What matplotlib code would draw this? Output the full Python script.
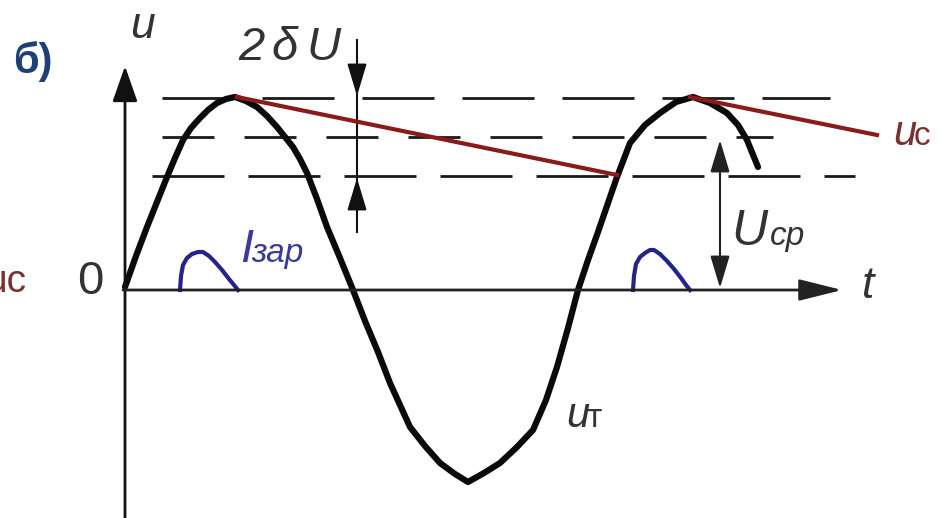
import matplotlib
matplotlib.use('Agg')
import matplotlib.pyplot as plt

plt.rcParams['font.family'] = ['Liberation Sans', 'DejaVu Sans']
plt.rcParams['lines.scale_dashes'] = False

# all coordinates in pixels (y grows downward)
sine_x = [125, 136, 147, 157, 167, 175, 183, 191, 200, 208, 217, 226, 235,
          246, 257, 267, 277, 285, 293, 300, 307, 317, 327, 340, 353, 365,
          378, 390, 400, 410, 425, 440, 455, 468, 484, 500, 517, 533, 546,
          557, 568, 578, 588, 598, 608, 617, 630, 645, 660, 676, 693, 710,
          727, 738, 747, 758]
sine_y = [287, 256, 227, 202, 177, 158, 140, 128, 118, 110, 103, 99, 97,
          101, 107, 116, 127, 137, 147, 159, 173, 199, 227, 258, 290, 321,
          352, 383, 405, 427, 446, 463, 474, 482, 473, 463, 447, 430, 400,
          367, 328, 290, 260, 232, 203, 177, 143, 125, 113, 102, 97, 103,
          113, 125, 140, 167]

ripple_x = [237, 617]
ripple_y = [97, 175]
ripple2_x = [690, 877]
ripple2_y = [97, 135]

pulse1_x = [180, 181, 183, 187, 192, 198, 203, 209, 215, 222, 229, 234, 238]
pulse1_y = [290, 276, 265, 258, 254, 252, 252, 256, 262, 270, 279, 285, 290]
pulse2_x = [633, 634, 636, 640, 645, 650, 654, 660, 667, 674, 681, 686, 690]
pulse2_y = [290, 276, 264, 257, 253, 250, 250, 254, 261, 269, 278, 285, 290]

# dashed reference levels: y, x start, x end, dash length, gap
level_y = [98, 137, 176]
level_x0 = [162, 162, 152]
level_x1 = [830, 773, 855]
level_dash = [(72, 28), (52, 30), (72, 24)]

ripple_label = ['2', 'δ', 'U']
ripple_label_x = [238, 271, 306]

fig = plt.figure(figsize=(9.42, 5.18), dpi=100)
ax = fig.add_axes([0, 0, 1, 1])
ax.set_xlim(0, 942)
ax.set_ylim(518, 0)
ax.axis('off')

px = 72 / 100  # pixels -> points

for y, x0, x1, (on, off) in zip(level_y, level_x0, level_x1, level_dash):
    ax.plot([x0, x1], [y, y], color='#1a1a1a', lw=2.0,
            linestyle=(0, (on * px, off * px)), solid_capstyle='butt')

# axes
ax.annotate('', xy=(125, 66), xytext=(125, 518),
            arrowprops=dict(arrowstyle='-|>,head_length=1.0,head_width=0.35',
                            color='#111111', lw=2.0, mutation_scale=22,
                            shrinkA=0, shrinkB=0))
ax.annotate('', xy=(842, 290), xytext=(123, 290),
            arrowprops=dict(arrowstyle='-|>,head_length=1.2,head_width=0.3',
                            color='#222222', lw=2.0, mutation_scale=22,
                            shrinkA=0, shrinkB=0))

# ripple marker 2dU
ax.plot([357, 357], [40, 232], color='#111111', lw=1.5)
ax.annotate('', xy=(357, 96), xytext=(357, 66),
            arrowprops=dict(arrowstyle='-|>,head_length=1.0,head_width=0.3',
                            color='#111111', lw=1.5, mutation_scale=20,
                            shrinkA=0, shrinkB=0))
ax.annotate('', xy=(357, 178), xytext=(357, 206),
            arrowprops=dict(arrowstyle='-|>,head_length=1.0,head_width=0.3',
                            color='#111111', lw=1.5, mutation_scale=20,
                            shrinkA=0, shrinkB=0))

# mean voltage arrow
ax.annotate('', xy=(720, 140), xytext=(720, 288),
            arrowprops=dict(arrowstyle='<|-|>,head_length=1.0,head_width=0.3',
                            color='#222222', lw=1.5, mutation_scale=20,
                            shrinkA=0, shrinkB=0))

ax.plot(sine_x, sine_y, color='#0a0a0a', lw=4.5, solid_joinstyle='round',
        solid_capstyle='round')
ax.plot(ripple_x, ripple_y, color='#8b1a1a', lw=3.0)
ax.plot(ripple2_x, ripple2_y, color='#8b1a1a', lw=3.0)
ax.plot(pulse1_x, pulse1_y, color='#23238a', lw=3.0)
ax.plot(pulse2_x, pulse2_y, color='#23238a', lw=3.0)

# labels
ax.text(13, 62, 'б)', fontsize=30, fontweight='bold', color='#1f3f78',
        va='center', ha='left')
ax.text(143, 27, 'u', fontsize=32, style='italic', color='#333333',
        va='center', ha='center')
for s, x in zip(ripple_label, ripple_label_x):
    ax.text(x, 60, s, fontsize=34, style='italic', color='#333333',
            va='baseline', ha='left')
ax.text(90, 282, '0', fontsize=34, color='#333333', va='center', ha='center')
ax.text(26, 282, 'uc', fontsize=28, color='#7a3030', va='center', ha='right')
ax.text(240, 262, 'I', fontsize=34, style='italic', color='#3a3a9a',
        va='baseline', ha='left')
ax.text(251, 262, 'зар', fontsize=24, style='italic', color='#3a3a9a',
        va='baseline', ha='left')
ax.text(731, 245, 'U', fontsize=36, style='italic', color='#333333',
        va='baseline', ha='left')
ax.text(770, 245, 'cp', fontsize=24, style='italic', color='#333333',
        va='baseline', ha='left')
ax.text(868, 286, 't', fontsize=32, style='italic', color='#333333',
        va='center', ha='center')
ax.text(566, 427, 'u', fontsize=30, style='italic', color='#333333',
        va='baseline', ha='left')
ax.text(586, 427, 'т', fontsize=24, color='#333333', va='baseline', ha='left')
ax.text(893, 145, 'u', fontsize=30, style='italic', color='#7a3030',
        va='baseline', ha='left')
ax.text(914, 145, 'c', fontsize=24, color='#7a3030', va='baseline', ha='left')

fig.savefig('out.png', dpi=100)
